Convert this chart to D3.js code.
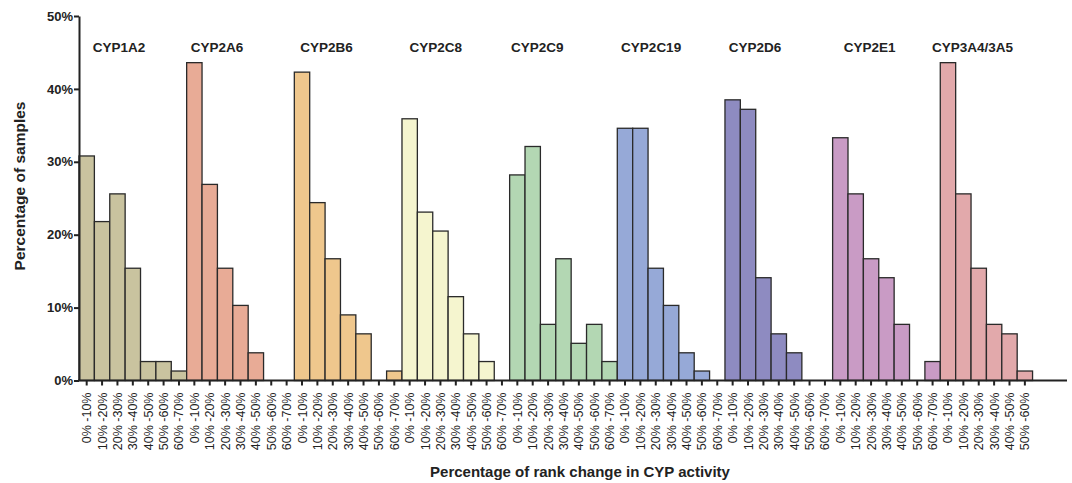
<!DOCTYPE html>
<html>
<head>
<meta charset="utf-8">
<script src="https://cdn.jsdelivr.net/npm/d3@7"></script>
<style>
  body { margin: 0; background: #fff; }
  text { font-family: Arial, "Liberation Sans", sans-serif; fill: #222; }
</style>
</head>
<body>
<div id="container"></div>
<script>
/* DATA */
const enzymes = ["CYP1A2", "CYP2A6", "CYP2B6", "CYP2C8", "CYP2C9", "CYP2C19", "CYP2D6", "CYP2E1", "CYP3A4/3A5"]
const bins = ["0% -10%", "10% -20%", "20% -30%", "30% -40%", "40% -50%", "50% -60%", "60% -70%"]

// percentage of samples per bin
const cyp1a2 = [30.8, 21.8, 25.6, 15.4, 2.6, 2.6, 1.3]
const cyp2a6 = [43.6, 26.9, 15.4, 10.3, 3.8, 0, 0]
const cyp2b6 = [42.3, 24.4, 16.7, 9.0, 6.4, 0, 1.3]
const cyp2c8 = [35.9, 23.1, 20.5, 11.5, 6.4, 2.6, 0]
const cyp2c9 = [28.2, 32.1, 7.7, 16.7, 5.1, 7.7, 2.6]
const cyp2c19 = [34.6, 34.6, 15.4, 10.3, 3.8, 1.3, 0]
const cyp2d6 = [38.5, 37.2, 14.1, 6.4, 3.8, 0, 0]
const cyp2e1 = [33.3, 25.6, 16.7, 14.1, 7.7, 0, 2.6]
const cyp3a4 = [43.6, 25.6, 15.4, 7.7, 6.4, 1.3]

const yTicks = [0, 10, 20, 30, 40, 50]

/* CONSTANTS */
const width = 1072
const height = 483
const colors = ["#c9c39f", "#e8ab96", "#efc78d", "#f5f5cf", "#b3d7b3", "#96a9d7", "#8e8bc1", "#c99bc5", "#e2a9ab"]
// where each enzyme name sits, in bars from the group's first bar
const labelShift = [2.6, 1.97, 2.1, 2.2, 1.8, 2.2, 1.95, 2.4, 2.1]

const series = [cyp1a2, cyp2a6, cyp2b6, cyp2c8, cyp2c9, cyp2c19, cyp2d6, cyp2e1, cyp3a4]

// flatten into one row per bar
const data = []
series.forEach((vals, g) => {
    vals.forEach((v, i) => {
        data.push({ idx: data.length, group: g, bin: bins[i], value: v })
    })
})
const groupStart = []
let n = 0
series.forEach(vals => { groupStart.push(n); n += vals.length })

const x0 = 79
const step = 15.38
const y0 = 380.5
const yTop = 16

/* SVG */
const svg = d3.select("#container")
    .append("svg")
    .attr("width", width)
    .attr("height", height)

/* SCALES */
const xScale = d3.scaleBand()
    .domain(data.map(d => d.idx))
    .range([x0, x0 + step * data.length])
    .padding(0)

const yScale = d3.scaleLinear()
    .domain([0, 50])
    .range([y0, yTop])

/* BARS */
svg.selectAll("rect.bar")
    .data(data.filter(d => d.value > 0))
    .join("rect")
    .attr("class", "bar")
    .attr("x", d => xScale(d.idx))
    .attr("y", d => yScale(d.value))
    .attr("width", xScale.bandwidth())
    .attr("height", d => y0 - yScale(d.value))
    .attr("fill", d => colors[d.group])
    .attr("stroke", "#2a2a2a")
    .attr("stroke-width", 1.3)

/* AXES */
const xAxis = d3.axisBottom(xScale)
    .tickFormat(i => data[i].bin)
    .tickSize(5)
    .tickSizeOuter(0)

const gx = svg.append("g")
    .attr("transform", `translate(0,${y0})`)
    .call(xAxis)
gx.select(".domain").remove()
gx.selectAll(".tick line").attr("stroke", "#222").attr("stroke-width", 2)
gx.selectAll(".tick text")
    .attr("transform", "rotate(-90)")
    .attr("text-anchor", "end")
    .attr("x", -12)
    .attr("y", 0)
    .attr("dy", "0.36em")
    .style("font-size", "12.5px")
    .style("font-family", "Arial, 'Liberation Sans', sans-serif")
    .attr("fill", "#111")

// baseline runs a little past the last bar
svg.append("line")
    .attr("x1", x0 - 1)
    .attr("x2", 1067)
    .attr("y1", y0)
    .attr("y2", y0)
    .attr("stroke", "#222")
    .attr("stroke-width", 2)

const yAxis = d3.axisLeft(yScale)
    .tickValues(yTicks)
    .tickFormat(d => d + "%")
    .tickSize(5)
    .tickSizeOuter(0)

const gy = svg.append("g")
    .attr("transform", `translate(${x0},0)`)
    .call(yAxis)
gy.select(".domain").attr("stroke", "#222").attr("stroke-width", 2)
gy.selectAll(".tick line").attr("stroke", "#222").attr("stroke-width", 2)
gy.selectAll(".tick text")
    .attr("x", -6)
    .style("font-size", "13px")
    .style("font-weight", "bold")
    .style("font-family", "Arial, 'Liberation Sans', sans-serif")
    .attr("fill", "#222")

/* ENZYME LABELS */
svg.selectAll("text.enzyme")
    .data(enzymes)
    .join("text")
    .attr("class", "enzyme")
    .attr("x", (d, i) => xScale(groupStart[i]) + step * labelShift[i])
    .attr("y", 52)
    .attr("text-anchor", "middle")
    .style("font-size", "13.5px")
    .style("font-weight", "bold")
    .text(d => d)

/* AXIS TITLES */
svg.append("text")
    .attr("x", 580)
    .attr("y", 477)
    .attr("text-anchor", "middle")
    .style("font-size", "15px")
    .style("font-weight", "bold")
    .text("Percentage of rank change in CYP activity")

svg.append("text")
    .attr("transform", "translate(25,186) rotate(-90)")
    .attr("text-anchor", "middle")
    .style("font-size", "15.5px")
    .style("font-weight", "bold")
    .text("Percentage of samples")
</script>
</body>
</html>
